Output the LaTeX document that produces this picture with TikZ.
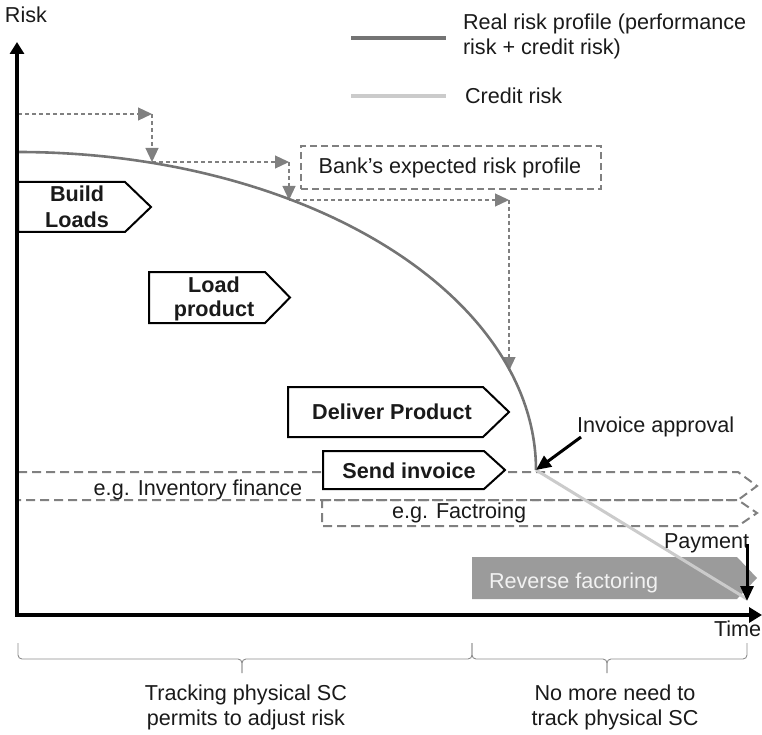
\documentclass[tikz,border=0pt]{standalone}
\usepackage{fontspec}
\setmainfont{Liberation Sans}
\usetikzlibrary{arrows.meta}
\definecolor{txt}{HTML}{1A1A1A}
\definecolor{dashgray}{HTML}{808080}
\definecolor{realgray}{HTML}{747474}
\definecolor{creditgray}{HTML}{CBCBCB}
\definecolor{revgray}{HTML}{9B9B9B}
\definecolor{revtext}{HTML}{F2F2F2}
\definecolor{bracegray}{HTML}{8C8C8C}
\begin{document}
\begin{tikzpicture}[x=1pt,y=-1pt,
  every node/.style={inner sep=0pt, outer sep=0pt, font=\fontsize{21.6}{25}\selectfont, text=txt},
  lbl/.style={anchor=base west},
  lblc/.style={anchor=base},
  ptext/.style={anchor=base, font=\fontsize{21.6}{25}\selectfont\bfseries},
  axisline/.style={line width=3.5pt, line join=miter, {Triangle[length=12pt,width=14pt]}-{Triangle[length=13pt,width=15pt]}},
  blackarrow/.style={line width=3pt, -{Triangle[length=15pt,width=13pt]}},
  procbox/.style={draw=black, line width=2pt, fill=white, line join=miter},
  finarrow/.style={draw=dashgray, line width=2pt, dash pattern=on 9pt off 5pt},
  bankbox/.style={draw=dashgray, line width=1.5pt, dash pattern=on 7pt off 4pt},
  stairarrow/.style={draw=dashgray, line width=1.2pt, dash pattern=on 4pt off 3pt,
    -{Triangle[length=14pt,width=13pt,fill=dashgray]}},
  realline/.style={draw=realgray, line width=2.6pt},
  creditline/.style={draw=creditgray, line width=3pt},
  bracepath/.style={draw=bracegray, line width=0.9pt, rounded corners=4pt}
]
\useasboundingbox (0,0) rectangle (762,735);

% ---- bank's expected risk profile (dashed staircase) ----
\node[bankbox, minimum width=300pt, minimum height=43pt, anchor=north west] (bank) at (301,146) {};
\node[lblc] (banktext) at (450,174) {Bank’s expected risk profile};

\coordinate (s0) at (18,114);
\coordinate (s1) at (152,114);
\coordinate (s2) at (152,162);
\coordinate (s3) at (289,162);
\coordinate (s4) at (289,200);
\coordinate (s5) at (509,200);
\coordinate (s6) at (509,371);
\draw[stairarrow] (s0) -- (s1);
\draw[stairarrow] (s1) -- (s2);
\draw[stairarrow] (s2) -- (s3);
\draw[stairarrow] (s3) -- (s4);
\draw[stairarrow] (s4) -- (s5);
\draw[stairarrow] (s5) -- (s6);

% ---- real risk profile: quarter ellipse down to invoice approval ----
\draw[realline] plot[domain=90:0, samples=90, smooth] ({18+518*cos(\x)}, {470-318*sin(\x)});
\coordinate (approval) at (536,470);

% ---- financing windows ----
\draw[finarrow] (18,472) -- (738,472) -- (757,486) -- (738,500) -- (18,500);
\draw[finarrow] (322,500) -- (738,500) -- (757,513) -- (738,526) -- (322,526) -- cycle;
\node[lblc] (inventory) at (198,495) {e.g. Inventory finance};
\node[lbl] (factoring) at (392,518) {e.g. Factroing};

% ---- process steps ----
\draw[procbox] (18,182) -- (125,182) -- (151,207) -- (125,232) -- (18,232) -- cycle;
\node[ptext] (build1) at (77,202) {Build};
\node[ptext] (build2) at (77,228) {Loads};

\draw[procbox] (149,272) -- (265,272) -- (290,297.5) -- (265,323) -- (149,323) -- cycle;
\node[ptext] (load1) at (214,292) {Load};
\node[ptext] (load2) at (214,316) {product};

\draw[procbox] (288,387) -- (483,387) -- (509,412) -- (483,437) -- (288,437) -- cycle;
\node[ptext] (deliver) at (392,419) {Deliver Product};

\draw[procbox] (323,451) -- (484,451) -- (505,470) -- (484,489) -- (323,489) -- cycle;
\node[ptext] (invoice) at (409,478) {Send invoice};

% ---- reverse factoring ----
\fill[revgray] (472,557) -- (737,557) -- (757,578) -- (737,599) -- (472,599) -- cycle;
\node[lbl, text=revtext] (reverse) at (489,588) {Reverse factoring};

% ---- credit risk after invoice approval ----
\coordinate (paid) at (747,599);
\draw[creditline] (approval) -- (paid);

% ---- event markers ----
\node[lbl] (approvaltext) at (577,432) {Invoice approval};
\coordinate (approvalfrom) at (581,437);
\draw[blackarrow] (approvalfrom) -- (approval);

\node[lbl] (paymenttext) at (664,548) {Payment};
\coordinate (paymentfrom) at (747,544);
\coordinate (paymentto) at (747,601);
\draw[blackarrow] (paymentfrom) -- (paymentto);

% ---- axes ----
\coordinate (ytip) at (17,42);
\coordinate (xtip) at (762,615);
\draw[axisline] (ytip) |- (xtip);
\node[lbl] (risklabel) at (5,23) {Risk};
\node[lbl] (timelabel) at (714,636) {Time};

% ---- legend ----
\coordinate (lg1a) at (351,38);
\coordinate (lg1b) at (446,38);
\coordinate (lg2a) at (351,96);
\coordinate (lg2b) at (446,96);
\draw[realgray, line width=4pt] (lg1a) -- (lg1b);
\draw[creditline, line width=4pt] (lg2a) -- (lg2b);
\node[lbl] (leg1a) at (463,30) {Real risk profile (performance};
\node[lbl] (leg1b) at (463,55) {risk + credit risk)};
\node[lbl] (leg2) at (465,104) {Credit risk};

% ---- phase braces ----
\coordinate (bl) at (18,643);
\coordinate (bm) at (472,643);
\coordinate (br) at (747,643);
\coordinate (t1) at (242,659);
\coordinate (t1e) at (242,673);
\coordinate (t2) at (607,659);
\coordinate (t2e) at (607,673);
\draw[bracepath] (bl) |- (t1) -- (t1e);
\draw[bracepath] (bm) |- (t1) -- (t1e);
\draw[bracepath] (bm) |- (t2) -- (t2e);
\draw[bracepath] (br) |- (t2) -- (t2e);

\node[lblc] (phase1a) at (246,700) {Tracking physical SC};
\node[lblc] (phase1b) at (246,725) {permits to adjust risk};
\node[lblc] (phase2a) at (615,700) {No more need to};
\node[lblc] (phase2b) at (615,725) {track physical SC};
\end{tikzpicture}
\end{document}
